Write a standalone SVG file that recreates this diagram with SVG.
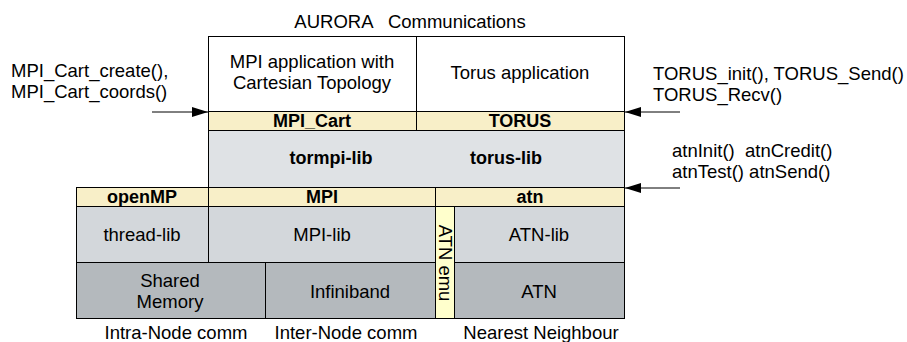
<svg xmlns="http://www.w3.org/2000/svg" width="907" height="342" viewBox="0 0 907 342">
<style>
rect{stroke:#000;stroke-width:1}
.w{fill:#fff}.y{fill:#f8efc8}.g1{fill:#dfe2e5}.g2{fill:#d3d7db}.g3{fill:#b4b9bd}.ly{fill:#ffffcc}
text{font-family:"Liberation Sans",Arial,sans-serif;font-size:18.5px;fill:#000}
.c{text-anchor:middle}.b{font-weight:bold;font-size:18px}
.con line{stroke:#000;stroke-width:1}
</style>
<defs>
<marker id="ah" viewBox="0 0 16 10" refX="16" refY="5" markerWidth="16" markerHeight="10" markerUnits="userSpaceOnUse" orient="auto">
<path d="M0,0 L16,5 L0,10 Z" fill="#000"/>
</marker>
</defs>
<text x="410" y="28" class="c" xml:space="preserve">AURORA   Communications</text>
<g id="app-mpi"><rect x="208.5" y="36.5" width="208" height="75" class="w"/><text x="312" y="68" class="c">MPI application with</text><text x="312" y="89" class="c">Cartesian Topology</text></g>
<g id="app-torus"><rect x="416.5" y="36.5" width="208" height="75" class="w"/><text x="520" y="79" class="c">Torus application</text></g>
<g id="mpi-cart"><rect x="208.5" y="111.5" width="208" height="19" class="y"/><text x="312" y="127" class="c b">MPI_Cart</text></g>
<g id="torus-api"><rect x="416.5" y="111.5" width="208" height="19" class="y"/><text x="520" y="127" class="c b">TORUS</text></g>
<g id="libs"><rect x="208.5" y="130.5" width="416" height="57" class="g1"/><text x="331" y="164" class="c b">tormpi-lib</text><text x="506" y="164" class="c b">torus-lib</text></g>
<g id="openmp"><rect x="76.5" y="187.5" width="132" height="19" class="y"/><text x="142" y="203" class="c b">openMP</text></g>
<g id="mpi"><rect x="208.5" y="187.5" width="227" height="19" class="y"/><text x="322" y="203" class="c b">MPI</text></g>
<g id="atn-api"><rect x="435.5" y="187.5" width="189" height="19" class="y"/><text x="530" y="203" class="c b">atn</text></g>
<g id="thread-lib"><rect x="76.5" y="206.5" width="132" height="56" class="g2"/><text x="142" y="241" class="c">thread-lib</text></g>
<g id="mpi-lib"><rect x="208.5" y="206.5" width="227" height="56" class="g2"/><text x="322" y="241" class="c">MPI-lib</text></g>
<g id="atn-emu"><rect x="435.5" y="206.5" width="19" height="112" class="ly"/><text x="0" y="0" class="c" transform="translate(439,263) rotate(90)">ATN emu</text></g>
<g id="atn-lib"><rect x="454.5" y="206.5" width="170" height="56" class="g2"/><text x="539" y="241" class="c">ATN-lib</text></g>
<g id="shared-memory"><rect x="76.5" y="262.5" width="189" height="56" class="g3"/><text x="170" y="287" class="c">Shared</text><text x="170" y="308" class="c">Memory</text></g>
<g id="infiniband"><rect x="265.5" y="262.5" width="170" height="56" class="g3"/><text x="350" y="298" class="c">Infiniband</text></g>
<g id="atn-hw"><rect x="454.5" y="262.5" width="170" height="56" class="g3"/><text x="539" y="298" class="c">ATN</text></g>
<text x="176" y="339" class="c">Intra-Node comm</text>
<text x="346" y="339" class="c">Inter-Node comm</text>
<text x="541" y="339" class="c">Nearest Neighbour</text>
<text x="11" y="77">MPI_Cart_create(),</text>
<text x="11" y="98">MPI_Cart_coords()</text>
<text x="653" y="80">TORUS_init(), TORUS_Send()</text>
<text x="653" y="101">TORUS_Recv()</text>
<text x="672" y="157" xml:space="preserve">atnInit()  atnCredit()</text>
<text x="672" y="178">atnTest() atnSend()</text>
<g id="connectors" class="con">
<line x1="152" y1="112" x2="208" y2="112" marker-end="url(#ah)"/>
<line x1="680" y1="112" x2="625" y2="112" marker-end="url(#ah)"/>
<line x1="680" y1="188" x2="625" y2="188" marker-end="url(#ah)"/>
</g>
</svg>
